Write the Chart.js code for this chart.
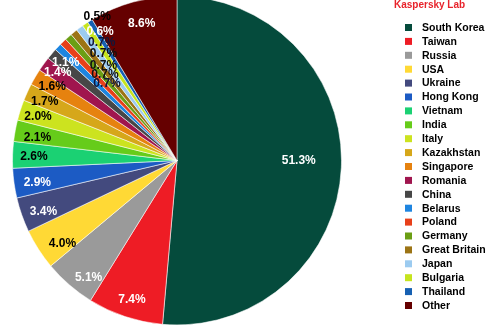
<!DOCTYPE html>
<html>
<head>
<meta charset="utf-8">
<script src="https://cdn.jsdelivr.net/npm/chart.js@4/dist/chart.umd.min.js"></script>
<style>
  html, body { margin: 0; padding: 0; background: #fff; }
  #frame { position: relative; width: 500px; height: 325px; overflow: hidden; }
  #chart { position: absolute; left: 0; top: -10px; }
</style>
</head>
<body>
<div id="frame"><canvas id="chart" width="500" height="341"></canvas></div>
<script>
// Share of attacks by country, percent
const countries = [
  'South Korea', 'Taiwan', 'Russia', 'USA', 'Ukraine', 'Hong Kong', 'Vietnam',
  'India', 'Italy', 'Kazakhstan', 'Singapore', 'Romania', 'China', 'Belarus',
  'Poland', 'Germany', 'Great Britain', 'Japan', 'Bulgaria', 'Thailand', 'Other'
];
const shares = [
  51.3, 7.4, 5.1, 4.0, 3.4, 2.9, 2.6,
  2.1, 2.0, 1.7, 1.6, 1.4, 1.1, 0.7,
  0.7, 0.7, 0.7, 0.7, 0.6, 0.5, 8.6
];
const sliceColors = [
  '#054b3c', '#ee1c25', '#9a9a9a', '#ffd935', '#434a7e', '#1c5bc4', '#1bd173',
  '#66cc1a', '#cce31f', '#d6a71a', '#e6820f', '#a0154e', '#474747', '#1e85e0',
  '#e8401a', '#6b9e14', '#9c7415', '#9ccbf0', '#c6e41e', '#1660b2', '#650000'
];
const labelColors = [
  '#fff', '#fff', '#fff', '#000', '#fff', '#fff', '#000',
  '#000', '#000', '#000', '#000', '#fff', '#fff', '#10163a',
  '#111', '#111', '#111', '#10163a', '#fff', '#000', '#fff'
];
// label distance from centre as a fraction of the radius; small slices are stacked
const labelRadius = [
  0.74, 0.89, 0.89, 0.86, 0.87, 0.86, 0.87,
  0.86, 0.885, 0.88, 0.88, 0.9, 0.9, 0.63,
  0.68, 0.73, 0.79, 0.85, 0.91, 1.0, 0.86
];
// extra angular shift of a label, degrees clockwise
const labelShift = [
  -2.3, -0.5, -3.8, -3.3, -1.7, -1.2, -0.6,
  -1, -0.5, -0.6, 0, 0.4, 0.9, 3.9,
  3.7, 3.5, 4.3, 3.7, 3.0, 2.9, 1.1
];

const TITLE = 'Kaspersky Lab';
const SHIFT = 10; // canvas sits 10px above the visible frame

const sliceLabels = {
  id: 'sliceLabels',
  afterDatasetsDraw(chart) {
    const ctx = chart.ctx;
    const arcs = chart.getDatasetMeta(0).data;
    ctx.save();
    ctx.font = 'bold 12px "Liberation Sans", Arial, sans-serif';
    ctx.textAlign = 'center';
    ctx.textBaseline = 'middle';
    arcs.forEach((arc, i) => {
      const p = arc.getProps(['x', 'y', 'startAngle', 'endAngle', 'outerRadius'], true);
      const a = (p.startAngle + p.endAngle) / 2 + labelShift[i] * Math.PI / 180;
      const r = p.outerRadius * labelRadius[i];
      ctx.fillStyle = labelColors[i];
      ctx.fillText(shares[i].toFixed(1) + '%', p.x + Math.cos(a) * r, p.y + Math.sin(a) * r);
    });
    ctx.restore();
  }
};

const sideLegend = {
  id: 'sideLegend',
  afterDraw(chart) {
    const ctx = chart.ctx;
    ctx.save();
    ctx.translate(0, SHIFT);
    ctx.textBaseline = 'middle';
    ctx.textAlign = 'left';
    ctx.font = 'bold 10px "Liberation Sans", Arial, sans-serif';
    ctx.fillStyle = '#e8232b';
    ctx.fillText(TITLE, 394, 5.5);
    ctx.font = 'bold 10.5px "Liberation Sans", Arial, sans-serif';
    countries.forEach((name, i) => {
      const y = 27.5 + i * 13.9;
      ctx.fillStyle = sliceColors[i];
      ctx.fillRect(405, y - 3.5, 7, 7);
      ctx.fillStyle = '#000';
      ctx.fillText(name, 422, y + 0.5);
    });
    ctx.restore();
  }
};

new Chart(document.getElementById('chart'), {
  type: 'pie',
  data: {
    labels: countries,
    datasets: [{
      data: shares,
      backgroundColor: sliceColors,
      borderColor: 'rgba(255,255,255,0.55)',
      borderWidth: 1,
      hoverOffset: 0,
      offset: 0
    }]
  },
  options: {
    responsive: false,
    animation: false,
    events: [],
    layout: { padding: { left: 12, right: 158, top: 5.5, bottom: 5.5 } },
    plugins: {
      legend: { display: false },
      tooltip: { enabled: false },
      title: { display: false }
    }
  },
  plugins: [sliceLabels, sideLegend]
});
</script>
</body>
</html>
